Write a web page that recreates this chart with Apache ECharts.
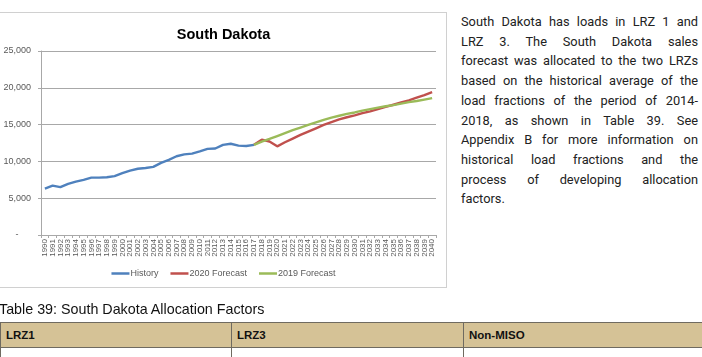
<!DOCTYPE html>
<html>
<head>
<meta charset="utf-8">
<script src="https://cdn.jsdelivr.net/npm/echarts@6/dist/echarts.min.js"></script>
<style>
  html, body { margin: 0; padding: 0; background: #fff; }
  body { width: 702px; height: 357px; position: relative; overflow: hidden; font-family: 'Liberation Sans', Arial, sans-serif; }
  #chart { position: absolute; left: 0; top: 12px; width: 447px; height: 275px; }
  #frame { position: absolute; left: -1px; top: 12px; width: 448px; height: 276px; box-sizing: border-box;
    border: 1px solid #d0d0d0; pointer-events: none; }
  .para { position: absolute; left: 461px; top: 12px; width: 237px; font-family: Roboto, 'Liberation Sans', sans-serif;
    font-size: 12.8px; line-height: 19.7px; color: #222; }
  .para div { text-align: justify; text-align-last: justify; white-space: nowrap; }
  .para div.last { text-align-last: left; }
  .caption { position: absolute; left: -1px; top: 301px; font-family: 'Liberation Sans Narrow', 'Liberation Sans', sans-serif;
    font-size: 14.3px; color: #111; }
  table { position: absolute; left: 0; top: 322px; width: 703px; border-collapse: collapse; table-layout: fixed; }
  td { border: 1px solid #6f6a60; height: 24px; padding: 0 0 0 5px; font-size: 11.5px; }
  tr.head td { background: #d5c296; font-weight: bold; font-family: 'Liberation Sans', sans-serif; color: #111; }
</style>
</head>
<body>
<div id="chart"></div>
<div id="frame"></div>

<div class="para">
  <div>South Dakota has loads in LRZ 1 and</div>
  <div>LRZ 3. The South Dakota sales</div>
  <div>forecast was allocated to the two LRZs</div>
  <div>based on the historical average of the</div>
  <div>load fractions of the period of 2014-</div>
  <div>2018, as shown in Table 39. See</div>
  <div>Appendix B for more information on</div>
  <div>historical load fractions and the</div>
  <div>process of developing allocation</div>
  <div class="last">factors.</div>
</div>

<div class="caption">Table 39: South Dakota Allocation Factors</div>
<table>
  <colgroup><col style="width:231px"><col style="width:232px"><col style="width:240px"></colgroup>
  <tr class="head"><td>LRZ1</td><td>LRZ3</td><td>Non-MISO</td></tr>
  <tr><td></td><td></td><td></td></tr>
</table>

<script>
// categories
const years = ['1990','1991','1992','1993','1994','1995','1996','1997','1998','1999',
  '2000','2001','2002','2003','2004','2005','2006','2007','2008','2009',
  '2010','2011','2012','2013','2014','2015','2016','2017','2018','2019',
  '2020','2021','2022','2023','2024','2025','2026','2027','2028','2029',
  '2030','2031','2032','2033','2034','2035','2036','2037','2038','2039','2040']

// History 1990-2017
const history = [6300, 6700, 6500, 6950, 7250, 7500, 7800, 7800, 7850, 8000,
  8400, 8750, 9000, 9100, 9250, 9800, 10200, 10700, 10950, 11050,
  11350, 11700, 11750, 12250, 12400, 12150, 12100, 12250]

// forecasts 2017-2040
const forecastStart = '2017'
const forecast2020 = [12250, 12950, 12700, 12050, 12600, 13100, 13600, 14050, 14500, 14950,
  15350, 15700, 16000, 16250, 16550, 16800, 17100, 17400, 17700, 18000,
  18300, 18650, 19000, 19400]
const forecast2019 = [12250, 12700, 13050, 13450, 13850, 14250, 14600, 14950, 15300, 15650,
  15950, 16200, 16450, 16650, 16900, 17100, 17300, 17500, 17650, 17850,
  18050, 18200, 18400, 18600]

const seriesNames = ['History', '2020 Forecast', '2019 Forecast']
const colors = ['#4f81bd', '#c0504d', '#9bbb59']

// pad forecast arrays so they line up with the year axis
const pad = years.indexOf(forecastStart)
const lead = new Array(pad).fill(null)

const myChart = echarts.init(document.getElementById('chart'))
const font = "'Liberation Sans', Arial, sans-serif"

let option = {
  animation: false,
  color: colors,
  textStyle: { fontFamily: font },
  title: {
    text: 'South Dakota',
    left: 'center',
    top: 10,
    textStyle: { fontSize: 14.5, fontWeight: 'bold', color: '#000', fontFamily: font }
  },
  legend: {
    data: seriesNames,
    top: 252,
    left: 'center',
    icon: 'rect',
    itemWidth: 18,
    itemHeight: 2.5,
    itemGap: 12,
    textStyle: { fontSize: 9, color: '#595959', fontFamily: font, padding: [0, 0, 0, -4] }
  },
  grid: { left: 41, right: 11, top: 39, height: 184 },
  xAxis: {
    type: 'category',
    data: years,
    boundaryGap: true,
    axisLine: { lineStyle: { color: '#a8a8a8' } },
    axisTick: { show: true, length: 3, interval: 0, lineStyle: { color: '#a8a8a8' } },
    axisLabel: { rotate: 90, interval: 0, fontSize: 8, color: '#595959', margin: 4, fontFamily: font }
  },
  yAxis: {
    type: 'value',
    min: 0,
    max: 25000,
    interval: 5000,
    axisLine: { show: true, lineStyle: { color: '#a8a8a8' } },
    axisTick: { show: true, length: 3, lineStyle: { color: '#a8a8a8' } },
    splitLine: { lineStyle: { color: '#a8a8a8', width: 1 } },
    axisLabel: {
      fontSize: 9, color: '#595959', margin: 10, fontFamily: font,
      formatter: function (v) {
        return v === 0 ? '-     ' : v.toLocaleString('en-US')
      }
    }
  },
  series: [
    {
      name: seriesNames[0], type: 'line', showSymbol: false, symbol: 'none',
      data: history, lineStyle: { width: 2.4, color: colors[0] }
    },
    {
      name: seriesNames[1], type: 'line', showSymbol: false, symbol: 'none',
      data: lead.concat(forecast2020), lineStyle: { width: 2.4, color: colors[1] }
    },
    {
      name: seriesNames[2], type: 'line', showSymbol: false, symbol: 'none',
      data: lead.concat(forecast2019), lineStyle: { width: 2.4, color: colors[2] }
    }
  ]
}
myChart.setOption(option)
</script>
</body>
</html>
